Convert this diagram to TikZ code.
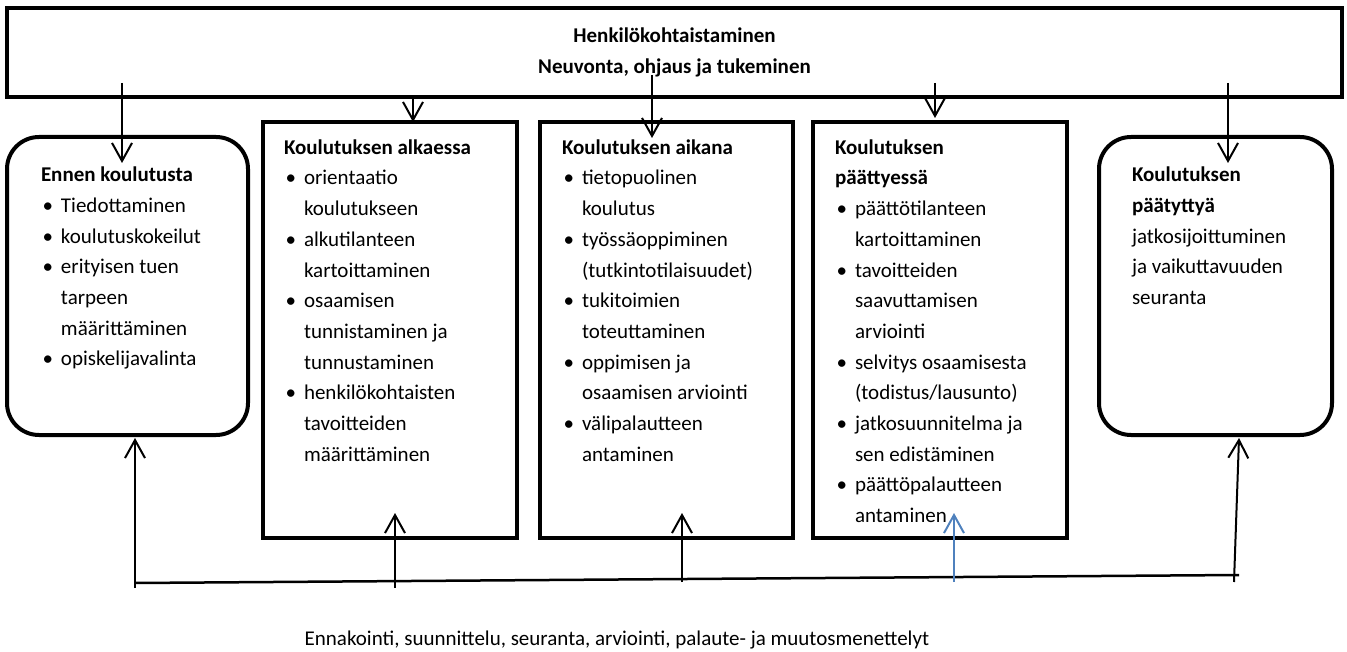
\documentclass[tikz,border=0pt]{standalone}
\usepackage{fontspec}
\setmainfont{Carlito}
\usepackage{enumitem}
\usepackage{tikz}
\usetikzlibrary{arrows.meta,positioning}
\definecolor{linkblue}{RGB}{79,129,189}
\newcommand\diagfont{\fontsize{21}{30.7}\selectfont}
\setlist[itemize]{nosep,leftmargin=20pt,labelsep=8pt,label=\textbullet}
\tikzstyle{banner} = [rectangle, draw=black, line width=4pt, outer sep=0pt, minimum width=1335pt, minimum height=89pt, align=center]
\tikzstyle{phase} = [rectangle, draw=black, line width=4pt, outer sep=0pt, minimum width=254pt, minimum height=416pt, anchor=north west]
\tikzstyle{endphase} = [rectangle, rounded corners=32pt, draw=black, line width=4pt, outer sep=0pt, minimum height=298pt, anchor=north west]
\tikzstyle{listtext} = [inner sep=0pt, outer sep=0pt, align=flush left, text width=230pt]
\tikzstyle{arrow} = [line width=2pt, -{Straight Barb[length=18pt,width=20pt]}]
\tikzstyle{feedline} = [line width=2.5pt]

\begin{document}
\begin{tikzpicture}[x=1pt,y=-1pt,font=\diagfont]
\useasboundingbox (0,0) rectangle (1347,652);
% yhteinen kehys
\node (top) [banner] at (674.5,52.5) {\textbf{Henkilökohtaistaminen}\\\textbf{Neuvonta, ohjaus ja tukeminen}};

% vaiheet
\node (ennen) [endphase, minimum width=241pt] at (7,137) {};
\node (alku) [phase] at (263,122) {};
\node (aikana) [phase, minimum width=253pt] at (540,122) {};
\node (paattyessa) [phase] at (813,122) {};
\node (paatyttya) [endphase, minimum width=233pt] at (1099,137) {};

\node (ennenTxt) [listtext, text width=205pt, below right=30pt and 34pt of ennen.north west] {\textbf{Ennen koulutusta}
\begin{itemize}
\item Tiedottaminen
\item koulutuskokeilut
\item erityisen tuen\\tarpeen\\määrittäminen
\item opiskelijavalinta
\end{itemize}};
\node (alkuTxt) [listtext, below right=17.5pt and 21pt of alku.north west] {\textbf{Koulutuksen alkaessa}
\begin{itemize}
\item orientaatio\\koulutukseen
\item alkutilanteen\\kartoittaminen
\item osaamisen\\tunnistaminen ja\\tunnustaminen
\item henkilökohtaisten\\tavoitteiden\\määrittäminen
\end{itemize}};
\node (aikanaTxt) [listtext, below right=17.5pt and 22pt of aikana.north west] {\textbf{Koulutuksen aikana}
\begin{itemize}
\item tietopuolinen\\koulutus
\item työssäoppiminen\\(tutkintotilaisuudet)
\item tukitoimien\\toteuttaminen
\item oppimisen ja\\osaamisen arviointi
\item välipalautteen\\antaminen
\end{itemize}};
\node (paattyessaTxt) [listtext, below right=17.5pt and 22pt of paattyessa.north west] {\textbf{Koulutuksen\\päättyessä}
\begin{itemize}
\item päättötilanteen\\kartoittaminen
\item tavoitteiden\\saavuttamisen\\arviointi
\item selvitys osaamisesta\\(todistus/lausunto)
\item jatkosuunnitelma ja\\sen edistäminen
\item päättöpalautteen\\antaminen
\end{itemize}};
\node (paatyttyaTxt) [listtext, text width=200pt, below right=30pt and 33pt of paatyttya.north west] {\textbf{Koulutuksen\\päätyttyä}\\jatkosijoittuminen\\ja vaikuttavuuden\\seuranta};

% nuolet kehyksestä
\draw [arrow] ([xshift=115pt,yshift=14pt]top.south west) -- ([xshift=-5.5pt,yshift=-26pt]ennen.north);
\draw [arrow] ([xshift=406pt]top.south west) -- ([xshift=23pt]alku.north);
\draw [arrow] ([xshift=645pt,yshift=22pt]top.south west) -- ([xshift=-14.5pt,yshift=-16pt]aikana.north);
\draw [arrow] ([xshift=928pt,yshift=14pt]top.south west) -- ([xshift=-5pt,yshift=4pt]paattyessa.north);
\draw [arrow] ([xshift=1221pt,yshift=14pt]top.south west) -- ([xshift=12.5pt,yshift=-26pt]paatyttya.north);

% palauteviiva
\coordinate (fbL) at (135,583);
\coordinate (fbR) at (1239,575);
\draw [feedline] (fbL) -- (fbR);
\coordinate (s1) at (135,588);
\coordinate (s2) at (395,588);
\coordinate (s3) at (682,582);
\coordinate (s4) at (954,582);
\coordinate (s5) at (1234,582);
\draw [arrow] (s1) -- ([xshift=7.5pt,yshift=-3pt]ennen.south);
\draw [arrow] (s2) -- ([xshift=5pt,yshift=25pt]alku.south);
\draw [arrow] (s3) -- ([xshift=15.5pt,yshift=25pt]aikana.south);
\draw [arrow, linkblue] (s4) -- ([xshift=14pt,yshift=25pt]paattyessa.south);
\draw [arrow] (s5) -- ([xshift=23.5pt,yshift=-3pt]paatyttya.south);

\node (menettelyt) at (617,640) {Ennakointi, suunnittelu, seuranta, arviointi, palaute- ja muutosmenettelyt};
\end{tikzpicture}
\end{document}
